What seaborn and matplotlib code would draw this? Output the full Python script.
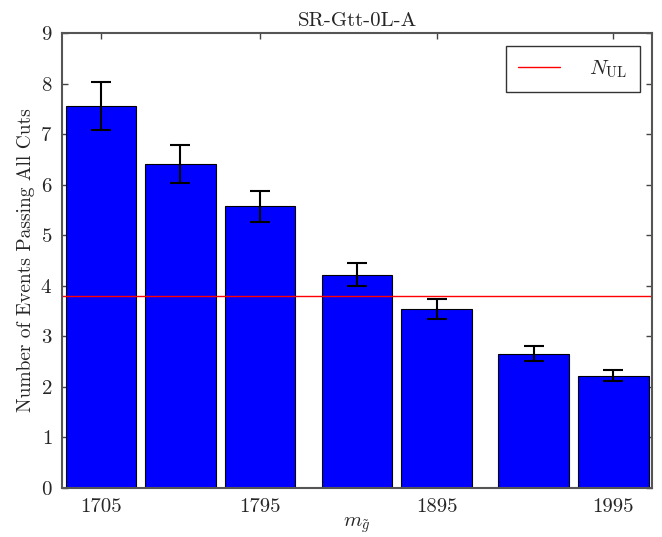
import numpy as np
import pandas as pd
import matplotlib
matplotlib.use("Agg")
import matplotlib.pyplot as plt
import seaborn as sns

# gluino masses and event counts
masses = [1705, 1750, 1795, 1850, 1895, 1950, 1995]
n_events = [7.56, 6.41, 5.57, 4.22, 3.54, 2.66, 2.22]
n_errors = [0.47, 0.38, 0.31, 0.23, 0.19, 0.14, 0.11]
n_ul = 3.79
tick_masses = [1705, 1795, 1895, 1995]

sns.set_style("ticks")
plt.rcParams["font.family"] = ["cmr10", "DejaVu Serif"]
plt.rcParams["mathtext.fontset"] = "cm"
plt.rcParams["axes.formatter.use_mathtext"] = True

df = pd.DataFrame({"mass": masses, "events": n_events})

fig = plt.figure(figsize=(6.62, 5.37), dpi=100)
ax = fig.add_axes([0.0937, 0.0912, 0.8913, 0.8473])

sns.barplot(
    data=df, x="mass", y="events", native_scale=True,
    width=40 / 45, color="#0000ff", saturation=1,
    edgecolor="black", linewidth=0.8, errorbar=None, ax=ax
)
ax.errorbar(masses, n_events, yerr=n_errors, fmt="none", ecolor="black",
            elinewidth=1.5, capsize=7, capthick=1.5)
ax.axhline(n_ul, color="red", lw=1.0, label=r"$N_{\rm UL}$")

ax.set_xlim(1683, 2017)
ax.set_ylim(0, 9)
ax.set_xticks(tick_masses)
ax.set_xticklabels([str(m) for m in tick_masses])
ax.set_yticks(range(10))
ax.tick_params(direction="in", top=True, right=True, length=4, width=1,
               labelsize=15, color="#444444", pad=7)
for s in ax.spines.values():
    s.set_visible(True)
    s.set_color("#555555")
    s.set_linewidth(1.5)

ax.set_title("SR-Gtt-0L-A", fontsize=15, pad=5)
ax.set_xlabel(r"$m_{\tilde{g}}$", fontsize=15, labelpad=0)
ax.set_ylabel("Number of Events Passing All Cuts", fontsize=14, labelpad=4)

leg = ax.legend(loc="upper right", fontsize=15, fancybox=False, frameon=True,
                edgecolor="black", handlelength=2.0, handletextpad=1.4,
                borderpad=0.6, borderaxespad=0.6)
leg.get_frame().set_linewidth(1.0)

fig.savefig("out.png", dpi=100)
